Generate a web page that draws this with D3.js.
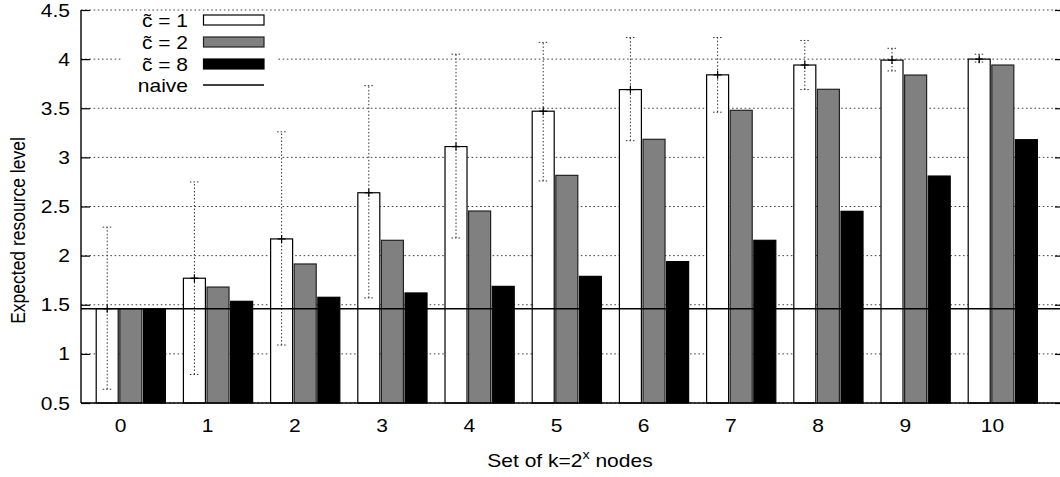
<!DOCTYPE html>
<html><head><meta charset="utf-8">
<script src="https://cdn.jsdelivr.net/npm/d3@7"></script>
<style>
body{margin:0;background:#fff}
text{font-family:"Liberation Sans",Arial,Helvetica,sans-serif;fill:#000}
</style>
</head><body>
<svg id="c" width="1060" height="477"></svg>
<script>
// ---- data ----
const categories = ["0","1","2","3","4","5","6","7","8","9","10"];
const seriesNames = ["c\u0303 = 1","c\u0303 = 2","c\u0303 = 8"];
const c1Values  = [1.46,1.77,2.17,2.64,3.11,3.47,3.69,3.84,3.94,3.99,4.00];
const c1ErrLow  = [0.64,0.79,1.09,1.57,2.18,2.76,3.17,3.46,3.69,3.88,3.97];
const c1ErrHigh = [2.29,2.75,3.26,3.73,4.05,4.17,4.22,4.22,4.19,4.11,4.05];
const c2Values  = [1.46,1.68,1.915,2.156,2.454,2.817,3.184,3.479,3.693,3.838,3.94];
const c8Values  = [1.46,1.535,1.576,1.62,1.687,1.789,1.939,2.156,2.451,2.81,3.18];
const naiveValue = 1.46;
const naiveLabel = "naive";
const yTicks = [0.5,1,1.5,2,2.5,3,3.5,4,4.5];
const yLabel = "Expected resource level";

// ---- layout ----
const SX = 1.2; // horizontal stretch of the original raster text
const FS = 17.5;
const pL = 81, pR = 1064, pT = 10, pB = 403;
const fills = ["#ffffff","#808080","#000000"];
const strokes = ["#000","#222","#000"];

const svg = d3.select("#c");
svg.append("rect").attr("width",1060).attr("height",477).attr("fill","#fff");

const y = d3.scaleLinear().domain([0.5,4.5]).range([pB,pT]);
const xg = d3.scaleBand().domain(categories).range([pL,pR])
  .paddingInner(0.188).paddingOuter(0.2305).align(0.366);
const xs = d3.scaleBand().domain(seriesNames).range([0,xg.bandwidth()]);

function stext(g, x, yy, str, anchor, size){
  return g.append("text").attr("transform",`translate(${x},${yy}) scale(${SX},1)`)
    .attr("text-anchor",anchor).attr("font-size",size).text(str);
}

// gridlines
svg.append("g").selectAll("line").data(yTicks).join("line")
  .attr("x1",pL).attr("x2",pR).attr("y1",d=>y(d)).attr("y2",d=>y(d))
  .attr("stroke","#444").attr("stroke-width",1).attr("stroke-dasharray","1.6,2.6");

// legend background
svg.append("rect").attr("x",122).attr("y",13).attr("width",156).attr("height",88).attr("fill","#fff");

// bars
const seriesVals = [c1Values,c2Values,c8Values];
seriesNames.forEach((s,si)=>{
  svg.append("g").selectAll("rect").data(categories).join("rect")
    .attr("x",c=>xg(c)+xs(s)+0.5)
    .attr("width",xs.bandwidth()-1.6)
    .attr("y",(c,i)=>y(seriesVals[si][i]))
    .attr("height",(c,i)=>y(0.5)-y(seriesVals[si][i]))
    .attr("fill",fills[si]).attr("stroke",strokes[si]).attr("stroke-width",1.2);
});

// error bars for c~=1
const eg = svg.append("g");
categories.forEach((c,i)=>{
  const cx = xg(c)+xs(seriesNames[0])+xs.bandwidth()/2-0.3;
  eg.append("line").attr("x1",cx).attr("x2",cx).attr("y1",y(c1ErrLow[i])).attr("y2",y(c1ErrHigh[i]))
    .attr("stroke","#333").attr("stroke-dasharray","1.5,2");
  [c1ErrLow[i],c1ErrHigh[i]].forEach(v=>{
    eg.append("line").attr("x1",cx-4.5).attr("x2",cx+4.5).attr("y1",y(v)).attr("y2",y(v))
      .attr("stroke","#333").attr("stroke-dasharray","1.5,2");
  });
  eg.append("line").attr("x1",cx).attr("x2",cx).attr("y1",y(c1Values[i])-4).attr("y2",y(c1Values[i])+4)
    .attr("stroke","#000").attr("stroke-width",1.2);
  eg.append("line").attr("x1",cx-4).attr("x2",cx+4).attr("y1",y(c1Values[i])).attr("y2",y(c1Values[i]))
    .attr("stroke","#000").attr("stroke-width",1.2);
});

// naive line
svg.append("line").attr("x1",pL).attr("x2",pR).attr("y1",y(naiveValue)).attr("y2",y(naiveValue))
  .attr("stroke","#000").attr("stroke-width",1.5);

// axes frame
svg.append("line").attr("x1",pL).attr("x2",pL).attr("y1",pT).attr("y2",pB).attr("stroke","#000").attr("stroke-width",1.4);
svg.append("line").attr("x1",pL).attr("x2",pR).attr("y1",pB).attr("y2",pB).attr("stroke","#000").attr("stroke-width",1.4);
svg.append("line").attr("x1",pR).attr("x2",pR).attr("y1",pT).attr("y2",pB).attr("stroke","#000").attr("stroke-width",1.4);

// y ticks (inward, both sides)
const yAxis = d3.axisLeft(y).tickValues(yTicks).tickSize(-9).tickPadding(0).tickFormat(d3.format("~g"));
const ya = svg.append("g").attr("transform",`translate(${pL},0)`).call(yAxis);
ya.select(".domain").remove();
ya.selectAll(".tick line").attr("stroke","#000").attr("stroke-width",1.2);
ya.selectAll(".tick text").attr("x",null).attr("dy",null)
  .attr("transform",`translate(-11,6) scale(${SX},1)`)
  .attr("font-size",FS).attr("font-family",null).attr("fill","#000");
const yaR = svg.append("g").attr("transform",`translate(${pR},0)`)
  .call(d3.axisRight(y).tickValues(yTicks).tickSize(-9).tickFormat(""));
yaR.select(".domain").remove();
yaR.selectAll(".tick line").attr("stroke","#000").attr("stroke-width",1.2);

// x tick labels
const xl = svg.append("g");
categories.forEach(c=>{ stext(xl, xg(c)+xg.bandwidth()*0.35, 432, c, "middle", FS); });

// x axis title with superscript
const xt = svg.append("text").attr("transform",`translate(570,467) scale(${SX},1)`)
  .attr("text-anchor","middle").attr("font-size",FS);
xt.append("tspan").text("Set of k=2");
xt.append("tspan").attr("dy",-8).attr("font-size",12).text("x");
xt.append("tspan").attr("dy",8).text(" nodes");

// y axis title
svg.append("text").attr("transform",`translate(25,${(pT+pB)/2+24}) scale(${SX},1) rotate(-90)`)
  .attr("text-anchor","middle").attr("font-size",FS).text(yLabel);

// legend
const lg = svg.append("g");
const rowY = [20,42,64,85];
seriesNames.forEach((s,si)=>{
  stext(lg, 188, rowY[si]+6.5, s, "end", FS);
  lg.append("rect").attr("x",203.5).attr("y",rowY[si]-5).attr("width",60.5).attr("height",10)
    .attr("fill",fills[si]).attr("stroke",strokes[si]).attr("stroke-width",1.2);
});
stext(lg, 188, rowY[3]+6.5, naiveLabel, "end", FS);
lg.append("line").attr("x1",203).attr("x2",264).attr("y1",rowY[3]).attr("y2",rowY[3])
  .attr("stroke","#000").attr("stroke-width",1.5);
</script>
</body></html>
